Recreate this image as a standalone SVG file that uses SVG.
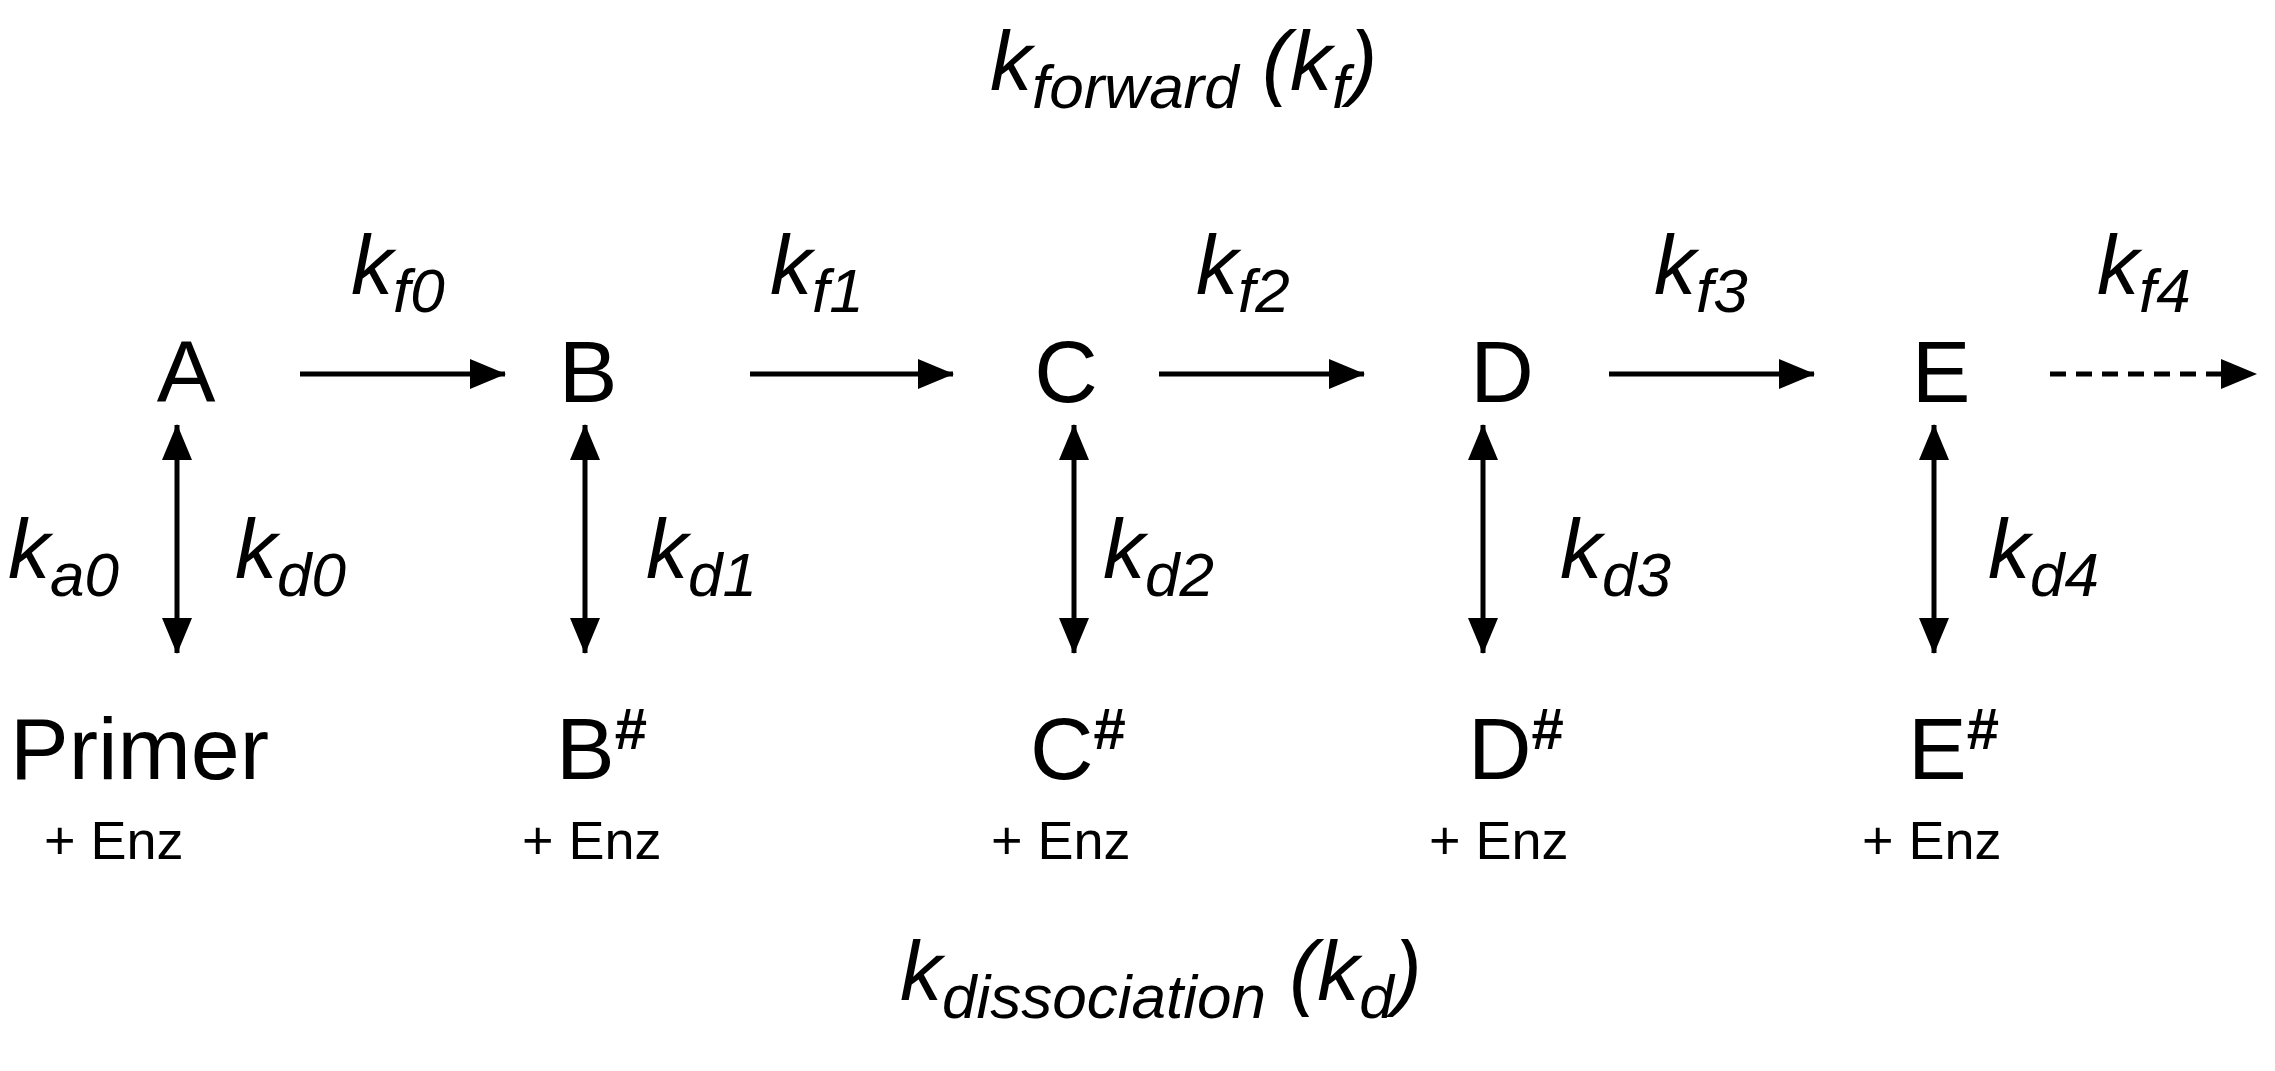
<svg xmlns="http://www.w3.org/2000/svg" width="2275" height="1071" viewBox="0 0 2275 1071">
<style>
text{font-family:"Liberation Sans",Arial,sans-serif;fill:#000}
.n{font-size:88px}
.k{font-size:84px;font-style:italic}
.s{font-size:62px}
.h{font-size:58px;font-weight:bold}
.e{font-size:54px}
.c{stroke:#000;stroke-width:5;fill:none}
.d{stroke-dasharray:16 10}
</style>
<defs>
<marker id="ah" markerUnits="userSpaceOnUse" markerWidth="36" markerHeight="30" refX="35" refY="15" orient="auto-start-reverse" viewBox="0 0 36 30"><path d="M0,0 L36,15 L0,30 z" fill="#000"/></marker>
</defs>
<rect width="2275" height="1071" fill="#fff"/>
<text class="k" x="990" y="90">k<tspan class="s" dy="18">forward</tspan><tspan dy="-18"> (k</tspan><tspan class="s" dy="18">f</tspan><tspan dy="-18">)</tspan></text>
<text class="k" x="900" y="1000">k<tspan class="s" dy="18">dissociation</tspan><tspan dy="-18">  (k</tspan><tspan class="s" dy="18">d</tspan><tspan dy="-18">)</tspan></text>
<g id="A"><text class="n" x="186" y="402" text-anchor="middle">A</text></g>
<g id="B"><text class="n" x="588" y="402" text-anchor="middle">B</text></g>
<g id="C"><text class="n" x="1066" y="402" text-anchor="middle">C</text></g>
<g id="D"><text class="n" x="1502" y="402" text-anchor="middle">D</text></g>
<g id="E"><text class="n" x="1941" y="402" text-anchor="middle">E</text></g>
<g id="Primer"><text class="n" x="10" y="779">Primer</text><text class="e" x="44" y="859">+ Enz</text></g>
<g id="Bh"><text class="n" x="556" y="779">B<tspan class="h" dy="-30">#</tspan></text><text class="e" x="522" y="859">+ Enz</text></g>
<g id="Ch"><text class="n" x="1030" y="779">C<tspan class="h" dy="-30">#</tspan></text><text class="e" x="991" y="859">+ Enz</text></g>
<g id="Dh"><text class="n" x="1468" y="779">D<tspan class="h" dy="-30">#</tspan></text><text class="e" x="1429" y="859">+ Enz</text></g>
<g id="Eh"><text class="n" x="1908" y="779">E<tspan class="h" dy="-30">#</tspan></text><text class="e" x="1862" y="859">+ Enz</text></g>
<g id="connectors">
<line class="c" x1="300" y1="374" x2="505" y2="374" marker-end="url(#ah)"/>
<line class="c" x1="750" y1="374" x2="953" y2="374" marker-end="url(#ah)"/>
<line class="c" x1="1159" y1="374" x2="1364" y2="374" marker-end="url(#ah)"/>
<line class="c" x1="1609" y1="374" x2="1814" y2="374" marker-end="url(#ah)"/>
<line class="c d" x1="2050" y1="374" x2="2256" y2="374" marker-end="url(#ah)"/>
<line class="c" x1="177" y1="425" x2="177" y2="653" marker-start="url(#ah)" marker-end="url(#ah)"/>
<line class="c" x1="585" y1="425" x2="585" y2="653" marker-start="url(#ah)" marker-end="url(#ah)"/>
<line class="c" x1="1074" y1="425" x2="1074" y2="653" marker-start="url(#ah)" marker-end="url(#ah)"/>
<line class="c" x1="1483" y1="425" x2="1483" y2="653" marker-start="url(#ah)" marker-end="url(#ah)"/>
<line class="c" x1="1934" y1="425" x2="1934" y2="653" marker-start="url(#ah)" marker-end="url(#ah)"/>
<text class="k" x="351" y="294">k<tspan class="s" dy="18">f0</tspan></text>
<text class="k" x="770" y="294">k<tspan class="s" dy="18">f1</tspan></text>
<text class="k" x="1196" y="294">k<tspan class="s" dy="18">f2</tspan></text>
<text class="k" x="1654" y="294">k<tspan class="s" dy="18">f3</tspan></text>
<text class="k" x="2097" y="294">k<tspan class="s" dy="18">f4</tspan></text>
<text class="k" x="8" y="578">k<tspan class="s" dy="18">a0</tspan></text>
<text class="k" x="235" y="578">k<tspan class="s" dy="18">d0</tspan></text>
<text class="k" x="646" y="578">k<tspan class="s" dy="18">d1</tspan></text>
<text class="k" x="1103" y="578">k<tspan class="s" dy="18">d2</tspan></text>
<text class="k" x="1560" y="578">k<tspan class="s" dy="18">d3</tspan></text>
<text class="k" x="1988" y="578">k<tspan class="s" dy="18">d4</tspan></text>
</g>
</svg>
